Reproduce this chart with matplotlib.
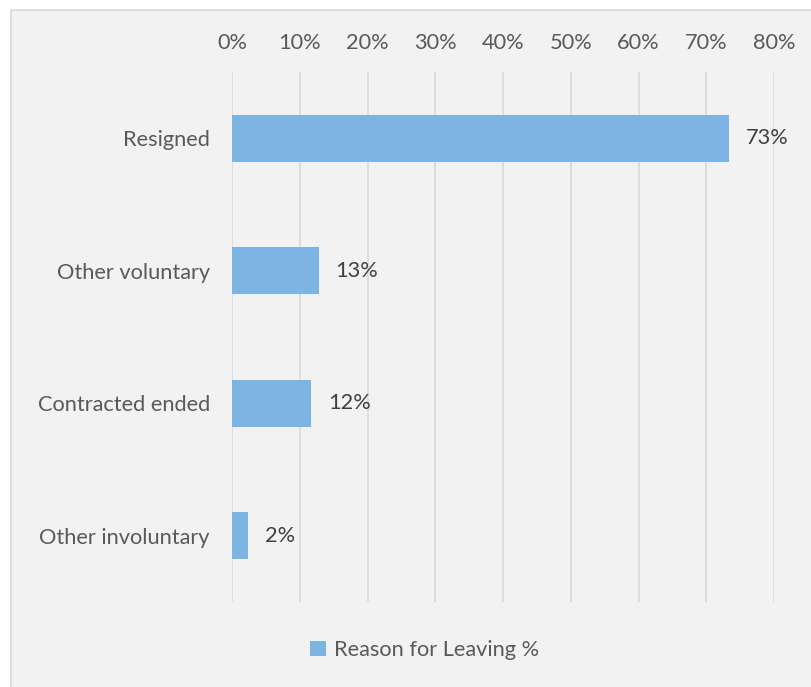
import matplotlib
matplotlib.use("Agg")
import matplotlib.pyplot as plt
from matplotlib.patches import Rectangle
from matplotlib.ticker import MultipleLocator, FuncFormatter

categories = ["Resigned", "Other voluntary", "Contracted ended", "Other involuntary"]
shares = [73.4, 12.8, 11.7, 2.4]
series_name = "Reason for Leaving %"

BAR = "#7cb4e4"
BG = "#f2f2f2"
GRID = "#d9d9d9"
TXT = "#595959"
LBL = "#404040"
FS = 15.7

plt.rcParams["font.family"] = ["Lato", "DejaVu Sans"]

W, H = 811, 687
fig = plt.figure(figsize=(W / 100, H / 100), dpi=100, facecolor="white")

# chart area panel with thin border
fig.patches.append(Rectangle((10.5 / W, -0.01), 1.02, 1 - 9.5 / H + 0.01,
                             transform=fig.transFigure, facecolor=BG,
                             edgecolor=GRID, linewidth=1.2, zorder=-10))

ax = fig.add_axes([232 / W, 1 - 602 / H, (774 - 232) / W, (602 - 72) / H])
ax.set_facecolor("none")
ax.set_zorder(5)

y = list(range(len(categories)))
bars = ax.barh(y, shares, height=0.355, color=BAR, zorder=3, label=series_name)

for rect, v in zip(bars, shares):
    ax.annotate(f"{v:.0f}%", (rect.get_width(), rect.get_y() + rect.get_height() / 2),
                xytext=(12, 0), textcoords="offset points", va="center", ha="left",
                fontsize=FS, color=LBL)

ax.set_xlim(0, 80)
ax.set_ylim(len(categories) - 0.5, -0.5)
ax.set_yticks(y)
ax.set_yticklabels(categories)
ax.xaxis.set_major_locator(MultipleLocator(10))
ax.xaxis.set_major_formatter(FuncFormatter(lambda v, p: f"{v:.0f}%"))
ax.xaxis.tick_top()
ax.tick_params(axis="x", length=0, pad=14, labelsize=FS, labelcolor=TXT)
ax.tick_params(axis="y", length=0, pad=16, labelsize=FS, labelcolor=TXT)
ax.grid(axis="x", color=GRID, linewidth=1.2, zorder=0)
for s in ax.spines.values():
    s.set_visible(False)

fig.legend(handles=[bars], labels=[series_name], loc="center",
           bbox_to_anchor=(425 / W, 1 - 650 / H), frameon=False, fontsize=FS,
           labelcolor=TXT, handlelength=0.7, handleheight=0.7, handletextpad=0.4)

fig.savefig("out.png", dpi=100, facecolor="white")
